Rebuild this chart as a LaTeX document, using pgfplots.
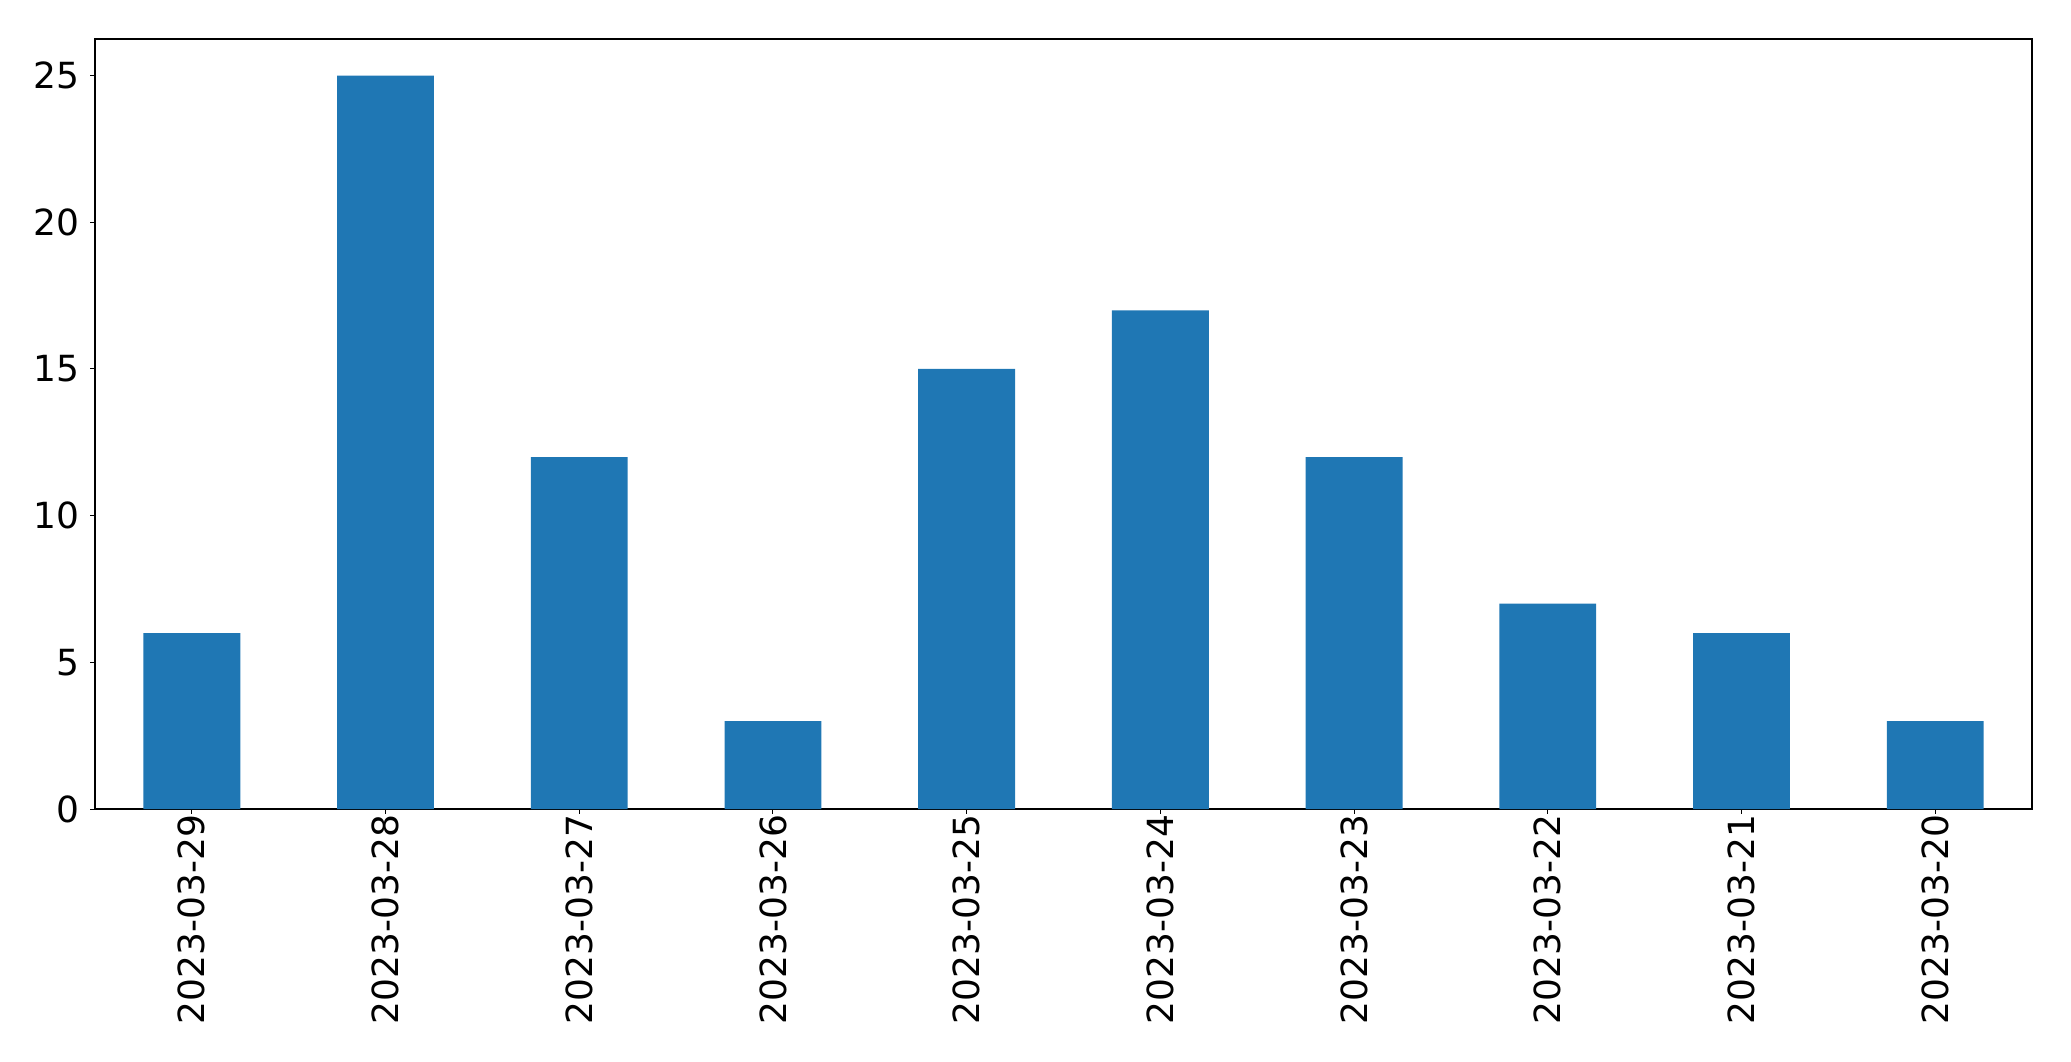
\documentclass[border=0pt]{standalone}
\usepackage{fontspec}
\setmainfont{DejaVu Sans}
\usepackage{pgfplots}
\pgfplotsset{compat=1.18}
\definecolor{mplblue}{HTML}{1F77B4}

\begin{document}
\begin{tikzpicture}
\useasboundingbox (-47.5pt,-126pt) rectangle (988pt,404.5pt);
\begin{axis}[
    at={(0,0)}, anchor=south west,
    scale only axis,
    width=968.5pt,
    height=385pt,
    ybar,
    bar width=0.5,
    bar shift=0pt,
    xmin=-0.5, xmax=9.5,
    ymin=0, ymax=26.25,
    xtick=data,
    xticklabels={2023-03-29,2023-03-28,2023-03-27,2023-03-26,2023-03-25,2023-03-24,2023-03-23,2023-03-22,2023-03-21,2023-03-20},
    ytick={0,5,10,15,20,25},
    x tick label style={rotate=90, anchor=east},
    tick label style={font=\fontsize{18pt}{22pt}\selectfont},
    /pgf/number format/assume math mode=true,
    tick align=outside,
    xtick pos=bottom, ytick pos=left,
    major tick length=2.4pt,
    every tick/.style={black, line width=0.5pt},
    axis line style={black, line width=0.6pt},
    xticklabel shift=-3pt,
    yticklabel shift=2pt,
]
\addplot[fill=mplblue, draw=none, bar width=0.5] coordinates {
    (0,6) (1,25) (2,12) (3,3) (4,15) (5,17) (6,12) (7,7) (8,6) (9,3)
};
\end{axis}
\end{tikzpicture}
\end{document}
